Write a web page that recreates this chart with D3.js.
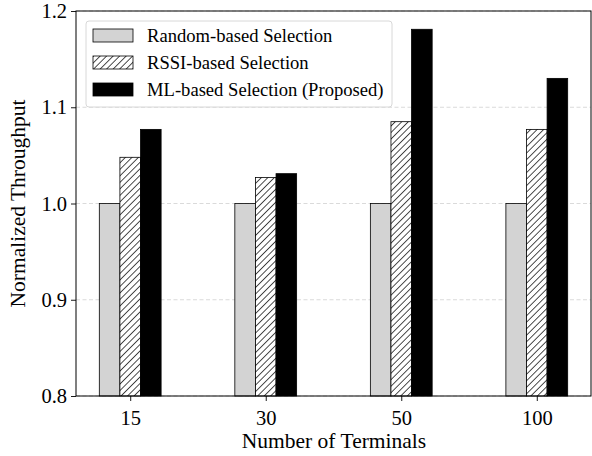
<!DOCTYPE html>
<html>
<head>
<meta charset="utf-8">
<script src="https://cdn.jsdelivr.net/npm/d3@7"></script>
<style>
  body { margin: 0; background: #fff; }
  text { font-family: "Liberation Serif", "Times New Roman", serif; }
</style>
</head>
<body>
<svg id="chart" width="592" height="456"></svg>
<script>
const categories = ["15", "30", "50", "100"];
const seriesNames = ["Random-based Selection", "RSSI-based Selection", "ML-based Selection (Proposed)"];
const randomVals = [1.0, 1.0, 1.0, 1.0];
const rssiVals = [1.048, 1.027, 1.085, 1.077];
const mlVals = [1.077, 1.031, 1.181, 1.130];
const yTicks = [0.8, 0.9, 1.0, 1.1, 1.2];

const svg = d3.select("#chart");
const margin = { top: 11, right: 1, bottom: 60, left: 76 };
const width = +svg.attr("width");
const height = +svg.attr("height");
const innerWidth = width - margin.left - margin.right;
const innerHeight = height - margin.top - margin.bottom;

// hatch pattern
const defs = svg.append("defs");
defs.append("pattern")
  .attr("id", "hatch")
  .attr("patternUnits", "userSpaceOnUse")
  .attr("width", 4.6)
  .attr("height", 4.6)
  .attr("patternTransform", "rotate(45)")
  .call((p) => {
    p.append("rect").attr("width", 4.6).attr("height", 4.6).attr("fill", "#fff");
    p.append("line")
      .attr("x1", 0).attr("y1", 0).attr("x2", 0).attr("y2", 4.6)
      .attr("stroke", "#000").attr("stroke-width", 1.4);
  });

const styles = [
  { fill: "#d3d3d3" },
  { fill: "url(#hatch)" },
  { fill: "#000" },
];

const xScale = d3.scaleLinear().domain([-0.4, 3.4]).range([0, innerWidth]);
const yScale = d3.scaleLinear().domain([0.8, 1.2]).range([innerHeight, 0]);

const g = svg.append("g").attr("transform", `translate(${margin.left},${margin.top})`);

// grid
g.selectAll(".grid")
  .data(yTicks)
  .enter()
  .append("line")
  .attr("x1", 0)
  .attr("x2", innerWidth)
  .attr("y1", (d) => yScale(d))
  .attr("y2", (d) => yScale(d))
  .attr("stroke", "#d0d0d0")
  .attr("stroke-width", 0.8)
  .attr("stroke-dasharray", "4,2.5");

// bars
const barW = 0.152;
const allSeries = [randomVals, rssiVals, mlVals];
allSeries.forEach((vals, si) => {
  g.selectAll(".bar" + si)
    .data(vals)
    .enter()
    .append("rect")
    .attr("x", (d, i) => xScale(i + (si - 1) * barW - barW / 2))
    .attr("width", xScale(barW) - xScale(0))
    .attr("y", (d) => yScale(d))
    .attr("height", (d) => yScale(0.8) - yScale(d))
    .attr("fill", styles[si].fill)
    .attr("stroke", "#000")
    .attr("stroke-width", 0.8);
});

// axes
const yAxis = d3.axisLeft(yScale).tickValues(yTicks).tickFormat(d3.format(".1f")).tickSize(5).tickPadding(4);
const yAxisG = g.append("g").call(yAxis);
const xAxis = d3.axisBottom(xScale).tickValues([0, 1, 2, 3]).tickFormat((d) => categories[d]).tickSize(5).tickPadding(9);
const xAxisG = g.append("g").attr("transform", `translate(0,${innerHeight})`).call(xAxis);
[yAxisG, xAxisG].forEach((a) => {
  a.select(".domain").remove();
  a.selectAll("line").attr("stroke", "#000").attr("stroke-width", 0.9);
  a.selectAll("text").attr("font-size", 20.5).attr("fill", "#000")
    .style("font-family", "'Liberation Serif', serif");
});

// frame
g.append("rect")
  .attr("width", innerWidth)
  .attr("height", innerHeight)
  .attr("fill", "none")
  .attr("stroke", "#000")
  .attr("stroke-width", 1);

// axis titles
svg.append("text")
  .attr("x", 334)
  .attr("y", 448)
  .attr("text-anchor", "middle")
  .attr("font-size", 21.5)
  .text("Number of Terminals");
svg.append("text")
  .attr("transform", `translate(25,${margin.top + innerHeight / 2}) rotate(-90)`)
  .attr("text-anchor", "middle")
  .attr("font-size", 21.5)
  .text("Normalized Throughput");

// legend
const lg = svg.append("g").attr("transform", "translate(86,21)");
lg.append("rect")
  .attr("width", 306)
  .attr("height", 86)
  .attr("rx", 3)
  .attr("fill", "#fff")
  .attr("fill-opacity", 0.85)
  .attr("stroke", "#d8d8d8")
  .attr("stroke-width", 1);
seriesNames.forEach((name, i) => {
  const row = lg.append("g").attr("transform", `translate(7,${8 + i * 27})`);
  row.append("rect")
    .attr("width", 40)
    .attr("height", 13)
    .attr("fill", styles[i].fill)
    .attr("stroke", "#000")
    .attr("stroke-width", 0.8);
  row.append("text")
    .attr("x", 54)
    .attr("y", 12.5)
    .attr("font-size", 18.6)
    .text(name);
});
</script>
</body>
</html>
